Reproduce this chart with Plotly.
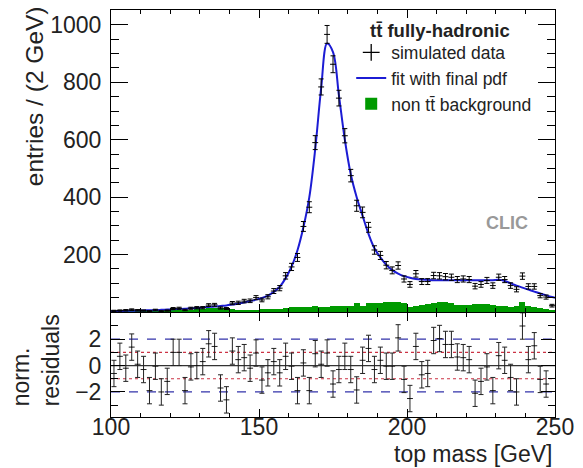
import plotly.graph_objects as go

# bin centres (2 GeV bins from 100 to 250 GeV)
mass = list(range(101, 251, 2))

# simulated data: entries per bin
data_entries = [
    4, 5, 6, 8, 6, 5, 3, 7, 3, 5, 12, 13, 7, 13, 15,
    15, 24, 25, 14, 12, 31, 32, 38, 39, 50, 42, 53, 73, 83, 126,
    157, 190, 298, 365, 590, 784, 967, 863, 745, 614, 475, 370, 347, 295, 216,
    197, 163, 145, 162, 115, 96, 133, 106, 106, 127, 126, 123, 121, 113, 115,
    113, 90, 96, 110, 92, 121, 113, 92, 79, 125, 89, 89, 57, 52, 22,
]

# fit with final pdf, evaluated along the mass axis
fit_mass = [100] + mass + [250]
fit_values = [2.8] + [
    3, 3.5, 4, 4.5, 5, 5.5, 6, 6.5, 7.5, 8.5, 9.5, 10.5, 11.5, 13, 14,
    16, 17.5, 19, 21, 23, 26, 29, 33, 38, 43, 49, 57, 70, 88, 118,
    158, 215, 295, 400, 568, 780, 935, 905, 755, 600, 480, 400, 335, 272, 222,
    190, 164, 146, 134, 125, 119, 115, 113, 112, 111, 111, 111, 111, 111, 111,
    111, 111, 111, 111, 111, 112, 108, 100, 92, 85, 78, 71, 65, 58, 52,
] + [50]

# non-ttbar background per bin
background = [
    0, 0, 1, 1, 1, 2, 2, 2, 3, 3, 4, 5, 6, 7, 9,
    11, 13, 14, 15, 14, 12, 8, 6, 7, 7, 9, 10, 11, 12, 14,
    17, 19, 18, 16, 22, 19, 19, 22, 22, 22, 22, 33, 22, 30, 30,
    32, 36, 36, 36, 30, 19, 22, 24, 28, 30, 36, 34, 30, 26, 25,
    25, 27, 27, 27, 24, 22, 20, 19, 20, 36, 20, 18, 14, 12, 8,
]

# normalised residuals (data - fit) / error
residuals = [
    -0.6, 0.7, -0.2, 1.4, 0.1, -0.3, -1.9, -0.05, -2.0, -1.2, 1.0, 1.0, -1.9, -0.1, 0.0,
    0.3, 1.65, 1.45, -1.7, -2.6, 1.1, 0.45, 0.6, -0.2, 0.95, -1.1, -0.55, 0.3, -0.55, 0.7,
    -0.05, -1.9, 0.2, -1.9, 0.9, 0.1, 0.95, -1.4, -0.3, 0.7, -0.3, -1.85, 0.4, 1.3, -0.3,
    0.4, -0.05, -0.05, 2.1, -1.05, -2.5, 1.45, -0.7, -0.6, 1.9, 2.05, 1.6, 1.6, 0.65, 0.6,
    0.45, -2.1, -1.2, -0.1, -1.9, 0.75, 0.4, -0.9, -2.0, 3.0, 0.45, 1.5, -1.05, -1.4, -5.0,
]

y_ticks_top = [200, 400, 600, 800, 1000]
y_ticks_res = [-2, 0, 2]
x_ticks = [100, 150, 200, 250]

FONT = "Liberation Sans, Arial, sans-serif"
GREEN = "#009a00"
BLUE = "#1c1cd4"
TTBAR = "t\u0074\u0304"

data_err = [v ** 0.5 for v in data_entries]

fig = go.Figure()

fig.add_trace(go.Bar(
    x=mass, y=background, width=2, marker=dict(color=GREEN, line=dict(width=0)),
    name=f"non {TTBAR} background", legendrank=3, xaxis="x", yaxis="y",
))
fig.add_trace(go.Scatter(
    x=fit_mass, y=fit_values, mode="lines", line=dict(color=BLUE, width=2, shape="spline"),
    name="fit with final pdf", legendrank=2, xaxis="x", yaxis="y",
))
fig.add_trace(go.Scatter(
    x=mass, y=data_entries, mode="markers", marker=dict(size=1, color="black"),
    error_x=dict(type="constant", value=1, width=0, thickness=1, color="black"),
    error_y=dict(type="data", array=data_err, width=2.5, thickness=1, color="black"),
    showlegend=False, xaxis="x", yaxis="y",
))
# legend entry for the data points
fig.add_trace(go.Scatter(
    x=[None], y=[None], mode="markers",
    marker=dict(symbol="cross-thin", size=12, color="black", line=dict(width=1.3, color="black")),
    name="simulated data", legendrank=1, xaxis="x", yaxis="y",
))

# residual panel
fig.add_trace(go.Scatter(
    x=mass, y=residuals, mode="markers", marker=dict(size=1, color="black"),
    error_x=dict(type="constant", value=1, width=0, thickness=1, color="#222"),
    error_y=dict(type="constant", value=1, width=2.5, thickness=1, color="#222"),
    showlegend=False, xaxis="x2", yaxis="y2",
))

# reference lines in the residual panel
for level, color, dash in [(0, "#333333", "solid"), (1, "#cc3344", "dot"), (-1, "#cc3344", "dot"),
                           (2, "#3333aa", "dash"), (-2, "#3333aa", "dash")]:
    fig.add_shape(type="line", xref="x2 domain", yref="y2", x0=0, x1=1, y0=level, y1=level,
                  line=dict(color=color, width=1.2, dash=dash), layer="below")

axis_common = dict(showline=True, linecolor="black", linewidth=1, mirror="allticks",
                   ticks="inside", tickcolor="black", showgrid=False, zeroline=False,
                   tickfont=dict(family=FONT, size=23, color="#222"))

fig.update_layout(
    width=583, height=468,
    margin=dict(l=111, r=21, t=9, b=51),
    paper_bgcolor="white", plot_bgcolor="white",
    font=dict(family=FONT, color="#222"),
    bargap=0,
    xaxis=dict(domain=[0, 1], range=[100, 250], anchor="y", showticklabels=False,
               tickvals=x_ticks, ticklen=8,
               minor=dict(dtick=10, tick0=100, ticklen=4, ticks="inside", tickcolor="black"),
               **axis_common),
    yaxis=dict(domain=[0.258, 1], range=[0, 1052], anchor="x",
               tickvals=y_ticks_top, ticklen=17, ticklabelstandoff=4,
               minor=dict(dtick=50, tick0=0, ticklen=8, ticks="inside", tickcolor="black"),
               **axis_common),
    xaxis2=dict(domain=[0, 1], range=[100, 250], anchor="y2", matches="x",
                tickvals=x_ticks, ticklen=8, ticklabelstandoff=-11,
                minor=dict(dtick=10, tick0=100, ticklen=4, ticks="inside", tickcolor="black"),
                **axis_common),
    yaxis2=dict(domain=[0, 0.256], range=[-3.9, 4.0], anchor="x2",
                tickvals=y_ticks_res, ticklen=14, ticklabelstandoff=4,
                minor=dict(dtick=1, tick0=0, ticklen=7, ticks="inside", tickcolor="black"),
                **axis_common),
    legend=dict(x=0.541, y=0.94, xanchor="left", yanchor="top",
                bgcolor="rgba(0,0,0,0)", font=dict(family=FONT, size=17.5, color="#222"),
                itemwidth=30, tracegroupgap=0),
    showlegend=True,
)

annotations = [
    dict(text=f"<b>{TTBAR} fully-hadronic</b>", x=(372 - 111) / 451, y=(417 - 30) / 408,
         xref="paper", yref="paper", xanchor="left", yanchor="middle", showarrow=False,
         font=dict(family=FONT, size=18.5, color="#222")),
    dict(text="<b>CLIC</b>", x=(513 - 111) / 451, y=(417 - 223) / 408,
         xref="paper", yref="paper", xanchor="center", yanchor="middle", showarrow=False,
         font=dict(family=FONT, size=18, color="#999999")),
    dict(text="entries / (2 GeV)", textangle=-90, x=(33 - 111) / 451, y=(417 - 3) / 408,
         xref="paper", yref="paper", xanchor="center", yanchor="top", showarrow=False,
         font=dict(family=FONT, size=24.5, color="#222")),
    dict(text="norm.<br>residuals", textangle=-90, align="left",
         x=(35 - 111) / 451, y=(417 - 360) / 408,
         xref="paper", yref="paper", xanchor="center", yanchor="middle", showarrow=False,
         font=dict(family=FONT, size=23, color="#222")),
    dict(text="top mass [GeV]", x=1.0, y=(417 - 454) / 408,
         xref="paper", yref="paper", xanchor="right", yanchor="middle", showarrow=False,
         font=dict(family=FONT, size=23, color="#222")),
]
fig.update_layout(annotations=annotations)

fig.write_html("out.html")
